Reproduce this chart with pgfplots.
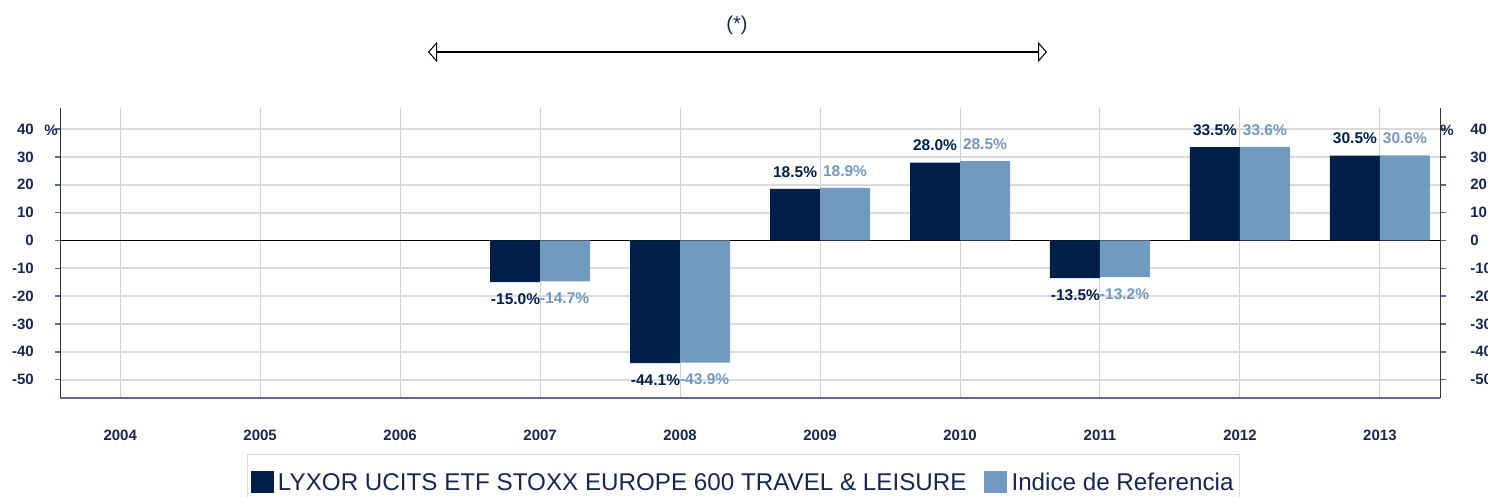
\documentclass[border=0pt]{standalone}
\usepackage{pgfplots}
\pgfplotsset{compat=1.18}
\usepackage{fontspec}
\setmainfont{Liberation Sans}
\usetikzlibrary{arrows.meta}
\definecolor{dk}{RGB}{0,31,75}
\definecolor{lt}{RGB}{114,153,190}
\definecolor{txt}{RGB}{22,40,80}
\definecolor{tk}{RGB}{90,108,145}
\newcommand{\lab}[1]{\pgfmathprintnumber[fixed,fixed zerofill,precision=1,assume math mode=true]{#1}\%}
\begin{document}
\begin{tikzpicture}[x=1pt,y=1pt]
\path[use as bounding box] (0,0) rectangle (1488,496);
\pgfplotsset{commonax/.style={
  at={(60pt,98pt)}, anchor=south west, width=1380pt, height=290pt, scale only axis,
  xmin=-0.43, xmax=9.43, ymin=-56.6, ymax=47.6,
  ytick={-50,-40,-30,-20,-10,0,10,20,30,40},
  yticklabels={-50,-40,-30,-20,-10,0,10,20,30,40},
  yticklabel style={font=\bfseries\fontsize{15}{15}\selectfont, text=txt, inner sep=0pt},
  ytick style={draw=tk, line width=1.5pt},
  tick align=outside, major tick length=5pt,
}}
\begin{axis}[commonax,
  axis y line*=left, axis x line*=bottom,
  xtick={0,1,2,3,4,5,6,7,8,9},
  xticklabels={2004,2005,2006,2007,2008,2009,2010,2011,2012,2013},
  xticklabel style={font=\bfseries\fontsize{15}{15}\selectfont, text=txt, anchor=center, yshift=-32pt},
  xtick style={draw=none},
  yticklabel style={anchor=east, xshift=-21pt},
  xmajorgrids, ymajorgrids,
  x grid style={color=black!18, line width=1pt},
  y grid style={color=black!14, line width=1.8pt},
  x axis line style={draw=tk, line width=2pt},
  y axis line style={draw=black!80, line width=1pt},
  legend style={at={(0.1355,-0.193)}, anchor=north west, draw=black!14, line width=1pt,
    legend columns=2, font=\fontsize{24.2}{24.2}\selectfont, text=txt,
    inner xsep=3pt, inner ysep=16pt,
    nodes={inner sep=2.5pt},
    /tikz/every even column/.append style={column sep=15pt}},
  legend image code/.code={\fill[#1] (0pt,-11pt) rectangle (23pt,11pt);},
  visualization depends on=rawy \as \rawy,
]
\draw[black, line width=1pt] (axis cs:-0.43,0) -- (axis cs:9.43,0);
\addplot[ybar, bar width=50pt, bar shift=-25pt, fill=dk, draw=none,
  nodes near coords={\makebox[0pt][r]{\lab{\pgfplotspointmeta}\ifdim\rawy pt<0pt\else\hspace{3pt}\fi}},
  nodes near coords style={font=\bfseries\fontsize{15.5}{15.5}\selectfont, text=dk,
    anchor=center, inner sep=0pt, yshift={ifthenelse(\rawy<0,-17,17)}}]
  coordinates {(3,-15.0) (4,-44.1) (5,18.5) (6,28.0) (7,-13.5) (8,33.5) (9,30.5)};
\addlegendentry{\hspace{2pt}LYXOR UCITS ETF STOXX EUROPE 600 TRAVEL \& LEISURE}
\addplot[ybar, bar width=50pt, bar shift=25pt, fill=lt, draw=none,
  nodes near coords={\makebox[0pt][l]{\ifdim\rawy pt<0pt\else\hspace{3pt}\fi\lab{\pgfplotspointmeta}}},
  nodes near coords style={font=\bfseries\fontsize{15.5}{15.5}\selectfont, text=lt,
    anchor=center, inner sep=0pt, yshift={ifthenelse(\rawy<0,-17,17)}}]
  coordinates {(3,-14.7) (4,-43.9) (5,18.9) (6,28.5) (7,-13.2) (8,33.6) (9,30.6)};
\addlegendentry{\hspace{2pt}Indice de Referencia\hspace{16pt}}
\end{axis}
\begin{axis}[commonax,
  axis y line*=right, axis x line=none,
  yticklabel style={anchor=west, xshift=24pt},
  y axis line style={draw=black!80, line width=1pt},
  major tick length=6pt,
]
\addplot[draw=none] coordinates {(0,0)};
\end{axis}
\node[font=\bfseries\fontsize{15}{15}\selectfont, text=txt] at (51,366) {\%};
\node[font=\bfseries\fontsize{15}{15}\selectfont, text=txt] at (1447,366) {\%};
\node[font=\fontsize{20}{20}\selectfont, text=txt] at (737,471) {(*)};
\draw[line width=1.8pt, black, {Triangle[open,length=9pt,width=20pt,line width=1pt]}-{Triangle[open,length=9pt,width=20pt,line width=1pt]}] (428,444) -- (1047,444);
\end{tikzpicture}
\end{document}
